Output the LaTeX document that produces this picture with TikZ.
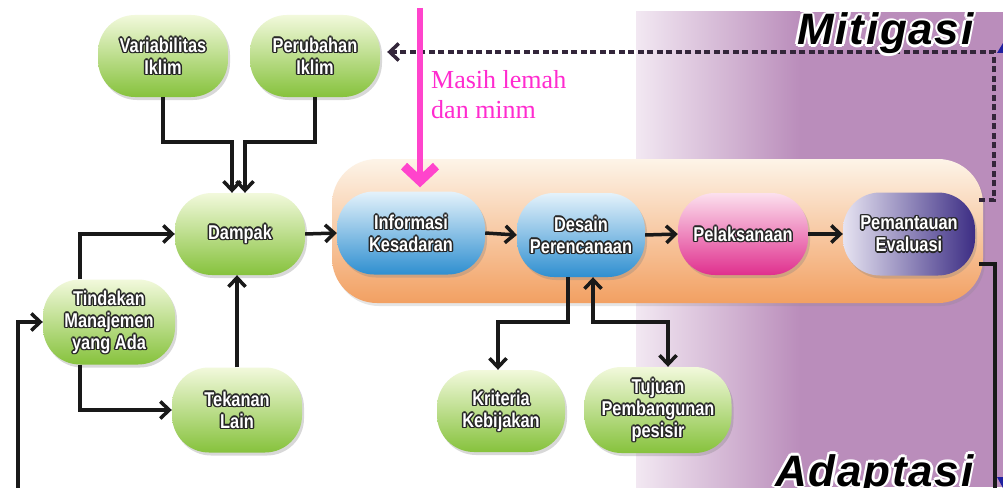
\documentclass[tikz,border=0pt]{standalone}
\usepackage{fontspec}
\setmainfont{Liberation Serif}
\newfontfamily\nodefont[FakeStretch=0.82]{Liberation Sans}
\newfontfamily\bigfont[LetterSpace=4]{Liberation Sans}
\usetikzlibrary{arrows.meta,calc,shadows}

\definecolor{gA}{HTML}{F2F9DC}\definecolor{gM}{HTML}{C4E38A}\definecolor{gB}{HTML}{86C23C}
\definecolor{bA}{HTML}{E4F2FB}\definecolor{bM}{HTML}{8CC8EE}\definecolor{bB}{HTML}{2F8FD0}
\definecolor{pA}{HTML}{FCE0EE}\definecolor{pM}{HTML}{F28CC2}\definecolor{pB}{HTML}{E0308E}
\definecolor{vA}{HTML}{E6E3F1}\definecolor{vB}{HTML}{3C2D84}
\definecolor{oA}{HTML}{FDF4E8}\definecolor{oM}{HTML}{F9D7B6}\definecolor{oB}{HTML}{F2A062}
\definecolor{lil0}{HTML}{F2E8F2}\definecolor{lil1}{HTML}{BA8DBB}
\definecolor{mag}{HTML}{FF2BCF}\definecolor{magl}{HTML}{FF44CC}
\definecolor{dashc}{HTML}{33263A}\definecolor{navy}{HTML}{1F1FA0}

\newlength\otA \newlength\otB
\newcommand\otx[4]{%
 \begingroup\setlength\otA{#1}\setlength\otB{0.7\otA}%
 \leavevmode\sbox0{#4}%
 \makebox[\wd0][l]{\color{#2}%
  \rlap{\kern-\otA #4}\rlap{\kern\otA #4}%
  \rlap{\raisebox{\otA}{#4}}\rlap{\raisebox{-\otA}{#4}}%
  \rlap{\kern-\otB\raisebox{\otB}{#4}}\rlap{\kern\otB\raisebox{\otB}{#4}}%
  \rlap{\kern-\otB\raisebox{-\otB}{#4}}\rlap{\kern\otB\raisebox{-\otB}{#4}}%
  \color{#3}#4}\endgroup}
\newcommand\ot[1]{\otx{1.5pt}{black!85}{white}{#1}}

\tikzset{
 pill/.style={rectangle, rounded corners=37pt, inner sep=0pt, align=center,
   font=\nodefont\bfseries\fontsize{20}{22}\selectfont,
   drop shadow={shadow xshift=2pt, shadow yshift=-3pt, opacity=0.3}},
 greenpill/.style={pill, top color=gA, middle color=gM, bottom color=gB},
 bluepill/.style={pill, top color=bA, middle color=bM, bottom color=bB},
 pinkpill/.style={pill, top color=pA, middle color=pM, bottom color=pB},
 violetpill/.style={pill, left color=vA, right color=vB},
 groupbox/.style={rectangle, rounded corners=45pt, top color=oA, middle color=oM, bottom color=oB,
   drop shadow={shadow xshift=2pt, shadow yshift=-3pt, opacity=0.2}},
 tipb/.tip={Straight Barb[length=9pt,width=17pt]},
 conn/.style={draw=black!90, line width=3.5pt, -tipb},
 dconn/.style={draw=black!90, line width=3.5pt, tipb-tipb},
 dashconn/.style={draw=dashc, line width=3.5pt, dash pattern=on 6pt off 3.5pt, -tipb},
 pinkarr/.style={draw=magl, line width=6pt, -{Straight Barb[length=15pt,width=32pt,line width=9pt]}},
 bigtxt/.style={anchor=base west, inner sep=0pt, font=\bigfont\bfseries\itshape\fontsize{44}{44}\selectfont},
}

\begin{document}
\begin{tikzpicture}[x=1pt,y=-1pt]
\useasboundingbox (0,0) rectangle (1003,487);
\clip (0,0) rectangle (1003,487);
% background
\fill[white] (0,0) rectangle (1003,487);
\shade[left color=lil0, right color=lil1] (636,12) rectangle (800,487);
\fill[lil1] (799.5,12) rectangle (1003,487);

% group box
\node[groupbox, minimum width=651pt, minimum height=144pt] (grp) at (657.5,231) {};

% nodes
\node[greenpill, minimum width=130pt, minimum height=82pt] (var) at (163,56) {\ot{Variabilitas}\\\ot{Iklim}};
\node[greenpill, minimum width=130pt, minimum height=82pt] (per) at (315,56) {\ot{Perubahan}\\\ot{Iklim}};
\node[greenpill, minimum width=130pt, minimum height=82pt] (damp) at (240,234) {\ot{Dampak}};
\node[greenpill, minimum width=132pt, minimum height=85pt] (tind) at (109,322) {\ot{Tindakan}\\\ot{Manajemen}\\\ot{yang Ada}};
\node[greenpill, minimum width=130pt, minimum height=85pt] (tek) at (237,410) {\ot{Tekanan}\\\ot{Lain}};
\node[bluepill, minimum width=148pt, minimum height=83pt] (info) at (411,233) {\ot{Informasi}\\\ot{Kesadaran}};
\node[bluepill, minimum width=128pt, minimum height=84pt] (des) at (581,235) {\ot{Desain}\\\ot{Perencanaan}};
\node[pinkpill, minimum width=130pt, minimum height=82pt] (pel) at (743,234) {\ot{Pelaksanaan}};
\node[violetpill, minimum width=132pt, minimum height=83pt] (pem) at (909,234) {\ot{Pemantauan}\\\ot{Evaluasi}};
\node[greenpill, minimum width=128pt, minimum height=82pt] (krit) at (501,411) {\ot{Kriteria}\\\ot{Kebijakan}};
\node[greenpill, minimum width=147pt, minimum height=86pt] (tuj) at (658,410) {\ot{Tujuan}\\\ot{Pembangunan}\\\ot{pesisir}};

% connectors
\draw[conn] (var.south) -- ++(0,45) -| ($(damp.north)+(-8,0)$);
\draw[conn] (per.south) -- ++(0,45) -| ($(damp.north)+(5,0)$);
\draw[conn] ($(tind.north)+(-29,0)$) |- (damp.west);
\draw[conn] ($(tind.south)+(-29,0)$) |- (tek.west);
\draw[conn] (tek.north) -- (tek.north |- damp.south);
\draw[conn] (damp.east) -- (info.west);
\draw[conn] (info.east) -- (des.west);
\draw[conn] (des.east) -- (pel.west);
\draw[conn] (pel.east) -- (pem.west);
\draw[conn] ($(des.south)+(-13,0)$) -- ++(0,45) -| ($(krit.north)+(-3,0)$);
\draw[dconn] ($(des.south)+(12,0)$) -- ++(0,45) -| ($(tuj.north)+(10,0)$);

% loop and feedback
\coordinate (rb) at (995,500);
\coordinate (lb) at (18,500);
\draw[conn] ($(grp.east)+(-4,33)$) -| (rb) -- (lb) |- (tind.west);
\coordinate (dtr) at (994,52);
\draw[dashconn, shorten >=7pt] ($(grp.east)+(-4,-31)$) -| (dtr) -- (dtr -| per.east);

% off-picture arrowheads at the right edge
\fill[navy] (1003,43) -- (997,53) -- (1009,53) -- cycle;
\fill[navy] (997,477) -- (1009,477) -- (1003,488) -- cycle;

% pink arrow and note
\coordinate (ptop) at (420,8);
\draw[pinkarr] (ptop) -- ($(info.north)+(9,-4)$);
\node[anchor=base west, inner sep=0pt, align=left, text=mag, font=\fontsize{26}{30}\selectfont] (note) at (431,118) {Masih lemah\\dan minm};

% titles
\node[bigtxt] (mit) at (797,45) {\otx{2.5pt}{white}{black}{Mitigasi}};
\node[bigtxt] (ada) at (775,486) {\otx{2.5pt}{white}{black}{Adaptasi}};
\end{tikzpicture}
\end{document}
